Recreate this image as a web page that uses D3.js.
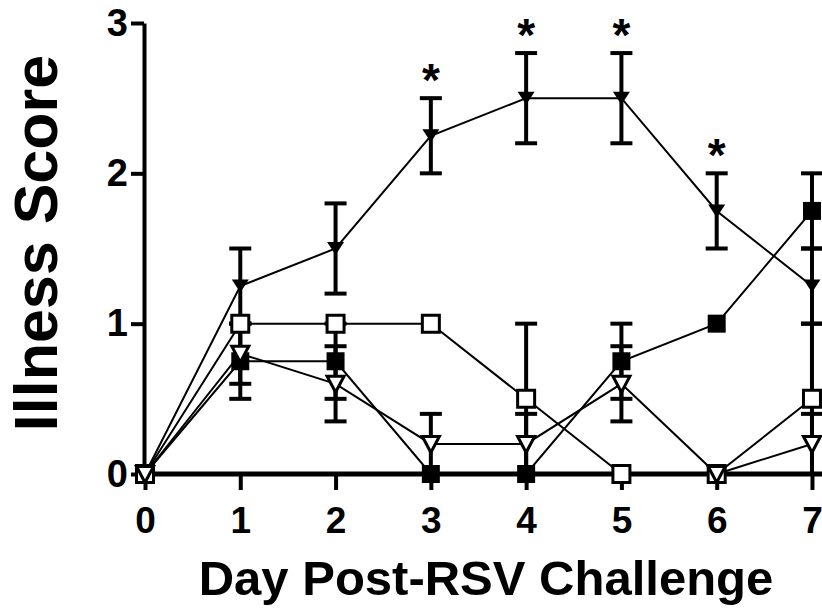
<!DOCTYPE html>
<html lang="en">
<head>
    <meta charset="UTF-8">
    <title>Illness Score</title>
    <script src="https://d3js.org/d3.v7.min.js"></script>
    <style>
        body {
            margin: 0;
            background: #fff;
        }
        text {
            font-family: "Liberation Sans", Arial, sans-serif;
            font-weight: bold;
            fill: #000;
        }
    </style>
</head>
<body>
    <div id="chart"></div>

    <script>
        // Data
        const days = [0, 1, 2, 3, 4, 5, 6, 7];
        const yTicks = [0, 1, 2, 3];

        const filledTri = [0, 1.25, 1.5, 2.25, 2.5, 2.5, 1.75, 1.25];
        const filledTriErr = [0, 0.25, 0.3, 0.25, 0.3, 0.3, 0.25, 0.25];

        const filledSquare = [0, 0.75, 0.75, 0, 0, 0.75, 1, 1.75];
        const filledSquareErr = [0, 0.25, 0.25, 0, 0, 0.25, 0, 0.25];

        const openSquare = [0, 1, 1, 1, 0.5, 0, 0, 0.5];
        const openSquareErr = [0, 0, 0, 0, 0.5, 0, 0, 0.5];

        const openTri = [0, 0.8, 0.6, 0.2, 0.2, 0.6, 0, 0.2];
        const openTriErr = [0, 0.2, 0.25, 0.2, 0.2, 0.25, 0, 0.2];

        const starDays = [3, 4, 5, 6];

        const W = 822, H = 608;

        const svg = d3.select("#chart")
            .append("svg")
            .attr("width", W)
            .attr("height", H);

        // Scales (day 7 sits near the right edge, axis runs off the page)
        const x = d3.scaleLinear().domain([0, 7.1]).range([145, 821.5]);
        const y = d3.scaleLinear().domain([0, 3]).range([474, 23]);

        // Marker shapes
        const shapes = {
            filledTri:    { d: "M-8.5,-6.5L8.5,-6.5L0,6.5Z", fill: "#000", stroke: "none", sw: 0 },
            filledSquare: { d: "M-9,-9H9V9H-9Z", fill: "#000", stroke: "none", sw: 0 },
            openSquare:   { d: "M-8.5,-8.5H8.5V8.5H-8.5Z", fill: "#fff", stroke: "#000", sw: 3 },
            openTri:      { d: "M-8.5,-7.5L8.5,-7.5L0,8.5Z", fill: "#fff", stroke: "#000", sw: 3 }
        };

        const series = [
            { key: "filledTri", values: filledTri, err: filledTriErr },
            { key: "filledSquare", values: filledSquare, err: filledSquareErr },
            { key: "openSquare", values: openSquare, err: openSquareErr },
            { key: "openTri", values: openTri, err: openTriErr }
        ];

        // Axes
        const xAxis = svg.append("g")
            .attr("transform", `translate(0,${y(0)})`)
            .call(d3.axisBottom(x).tickValues(days).tickFormat(d3.format("d"))
                .tickSize(16).tickSizeOuter(0).tickPadding(17));
        xAxis.select(".domain").attr("stroke-width", 5).attr("d", `M${x(0) - 3},0H${W}`);
        xAxis.selectAll(".tick line").attr("stroke-width", 4);
        xAxis.selectAll(".tick text").style("font-size", "37px");

        const yAxis = svg.append("g")
            .attr("transform", `translate(${x(0) - 1},0)`)
            .call(d3.axisLeft(y).tickValues(yTicks).tickFormat(d3.format("d"))
                .tickSize(13).tickSizeOuter(0).tickPadding(3));
        yAxis.select(".domain").attr("stroke-width", 4);
        yAxis.selectAll(".tick line").attr("stroke-width", 4);
        yAxis.selectAll(".tick text").style("font-size", "38px");

        // Error bars
        series.forEach(s => {
            const g = svg.append("g").attr("stroke", "#000").attr("stroke-width", 4);
            days.forEach((d, i) => {
                if (!s.err[i]) return;
                const lo = s.values[i] - s.err[i], hi = s.values[i] + s.err[i];
                g.append("line")
                    .attr("x1", x(d)).attr("x2", x(d))
                    .attr("y1", y(lo)).attr("y2", y(hi));
                [lo, hi].forEach(v => {
                    if (v <= 0) return;
                    g.append("line")
                        .attr("x1", x(d) - 11).attr("x2", x(d) + 11)
                        .attr("y1", y(v)).attr("y2", y(v));
                });
            });
        });

        // Connecting lines
        const line = d3.line()
            .x((v, i) => x(days[i]))
            .y(v => y(v));

        series.forEach(s => {
            svg.append("path")
                .datum(s.values)
                .attr("fill", "none")
                .attr("stroke", "#000")
                .attr("stroke-width", 2)
                .attr("d", line);
        });

        // Markers
        series.forEach(s => {
            const sh = shapes[s.key];
            svg.append("g")
                .selectAll("path")
                .data(s.values)
                .join("path")
                .attr("transform", (v, i) => `translate(${x(days[i])},${y(v)})`)
                .attr("d", sh.d)
                .attr("fill", sh.fill)
                .attr("stroke", sh.stroke)
                .attr("stroke-width", sh.sw)
                .attr("stroke-linejoin", "miter");
        });

        // Significance asterisks above the filled-triangle series
        svg.append("g")
            .selectAll("text")
            .data(starDays)
            .join("text")
            .attr("x", d => x(d))
            .attr("y", d => y(filledTri[d] + filledTriErr[d]) - 2)
            .attr("text-anchor", "middle")
            .style("font-size", "46px")
            .text("*");

        // Axis titles
        svg.append("text")
            .attr("x", 486)
            .attr("y", 595)
            .attr("text-anchor", "middle")
            .style("font-size", "49px")
            .text("Day Post-RSV Challenge");

        svg.append("text")
            .attr("transform", "rotate(-90)")
            .attr("x", -243)
            .attr("y", 57)
            .attr("text-anchor", "middle")
            .style("font-size", "61px")
            .text("Illness Score");
    </script>
</body>
</html>
